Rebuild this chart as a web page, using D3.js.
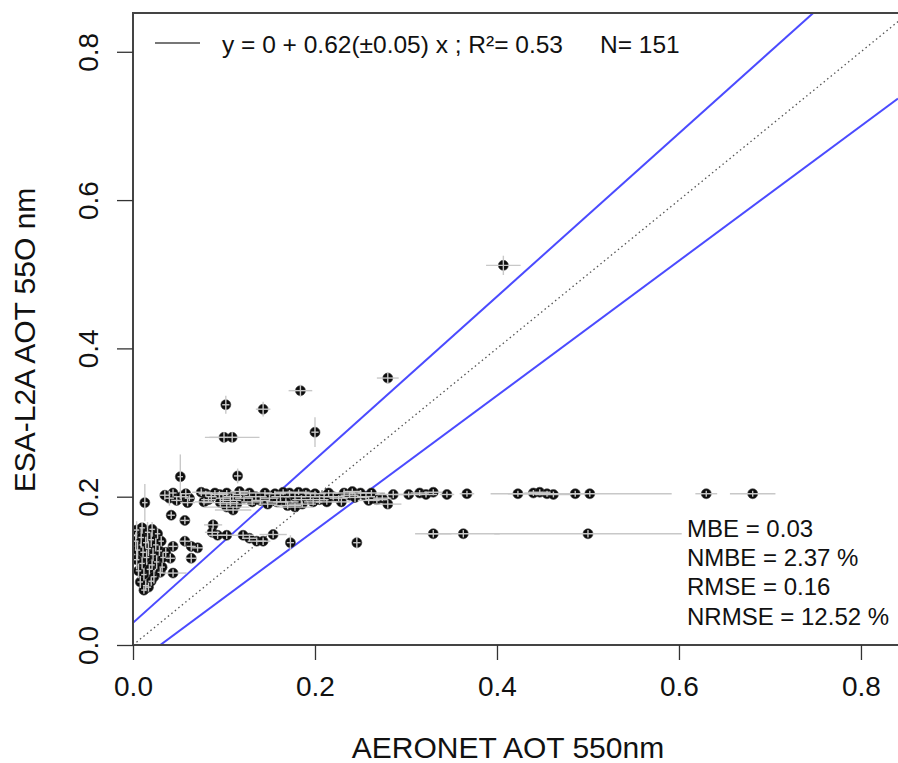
<!DOCTYPE html>
<html>
<head>
  <meta charset="utf-8">
  <script src="https://d3js.org/d3.v7.min.js"></script>
  <style>
    body { margin: 0; background: #fff; }
    text { font-family: "Liberation Sans", Arial, sans-serif; fill: #111; }
  </style>
</head>
<body>
<svg width="898" height="763"></svg>
<script>
  // AERONET (x), ESA-L2A (y) and their error bar half-widths, grouped by region of the plot
  var aeronet = [
    0.407, 0.280, 0.184, 0.102, 0.143, 0.200, 0.100, 0.109, 0.052, 0.115, 0.013,
    0.035, 0.040, 0.044, 0.048, 0.053, 0.058, 0.062, 0.075, 0.080, 0.086, 0.090, 0.095, 0.099, 0.103, 0.107, 0.110, 0.114,
    0.118, 0.122, 0.096, 0.103, 0.110, 0.128, 0.135, 0.140, 0.145, 0.150, 0.156, 0.162, 0.168, 0.172, 0.178, 0.185, 0.190,
    0.195, 0.200, 0.205, 0.210, 0.215, 0.220, 0.226, 0.232, 0.238, 0.244, 0.250, 0.256, 0.262, 0.268, 0.274, 0.280, 0.170,
    0.178, 0.186, 0.060, 0.078, 0.083, 0.117, 0.131, 0.148, 0.158, 0.165, 0.182, 0.198, 0.213, 0.229, 0.241, 0.259, 0.286,
    0.303, 0.315, 0.322, 0.330, 0.345, 0.367, 0.423, 0.440, 0.447, 0.455, 0.462, 0.486, 0.502, 0.630, 0.681,
    0.330, 0.363, 0.500,
    0.042, 0.057, 0.088, 0.087, 0.093, 0.103, 0.121, 0.128, 0.136, 0.143, 0.154, 0.044, 0.057, 0.064, 0.071, 0.041, 0.064,
    0.044, 0.173, 0.246,
    0.004, 0.010, 0.016, 0.021, 0.027, 0.003, 0.009, 0.014, 0.020, 0.025, 0.031, 0.005, 0.011, 0.017, 0.022, 0.029, 0.004,
    0.010, 0.015, 0.021, 0.026, 0.006, 0.012, 0.018, 0.023, 0.030, 0.008, 0.014, 0.020, 0.012, 0.017, 0.033, 0.036, 0.032
  ];
  var esa = [
    0.512, 0.360, 0.343, 0.324, 0.318, 0.287, 0.280, 0.280, 0.227, 0.228, 0.192,
    0.202, 0.198, 0.205, 0.195, 0.200, 0.204, 0.198, 0.206, 0.204, 0.200, 0.205, 0.203, 0.198, 0.205, 0.195, 0.200, 0.190,
    0.203, 0.198, 0.192, 0.186, 0.182, 0.205, 0.200, 0.195, 0.205, 0.198, 0.204, 0.200, 0.193, 0.205, 0.200, 0.196, 0.205,
    0.200, 0.204, 0.196, 0.200, 0.205, 0.200, 0.198, 0.205, 0.202, 0.199, 0.205, 0.200, 0.205, 0.196, 0.198, 0.190, 0.188,
    0.186, 0.190, 0.192, 0.193, 0.196, 0.207, 0.193, 0.190, 0.193, 0.206, 0.206, 0.193, 0.193, 0.193, 0.207, 0.195, 0.203,
    0.203, 0.205, 0.203, 0.206, 0.203, 0.204, 0.204, 0.205, 0.206, 0.204, 0.203, 0.204, 0.204, 0.204, 0.204,
    0.150, 0.150, 0.150,
    0.175, 0.168, 0.162, 0.152, 0.148, 0.148, 0.148, 0.144, 0.140, 0.140, 0.149, 0.133, 0.140, 0.133, 0.131, 0.117, 0.117,
    0.097, 0.138, 0.138,
    0.155, 0.158, 0.152, 0.156, 0.150, 0.140, 0.145, 0.138, 0.142, 0.135, 0.140, 0.128, 0.125, 0.130, 0.122, 0.127, 0.115,
    0.110, 0.118, 0.108, 0.112, 0.100, 0.095, 0.102, 0.092, 0.098, 0.085, 0.080, 0.086, 0.074, 0.078, 0.118, 0.125, 0.105
  ];
  var aeronetSd = [
    0.019, 0.012, 0.013, 0.004, 0.008, 0.004, 0.016, 0.030, 0.003, 0.004, 0.003,
    0.006, 0.005, 0.004, 0.006, 0.008, 0.006, 0.005, 0.010, 0.008, 0.006, 0.012, 0.010, 0.008, 0.010, 0.012, 0.010, 0.020,
    0.008, 0.010, 0.020, 0.025, 0.020, 0.010, 0.012, 0.010, 0.008, 0.010, 0.012, 0.010, 0.014, 0.010, 0.012, 0.010, 0.012,
    0.010, 0.012, 0.010, 0.014, 0.010, 0.012, 0.010, 0.012, 0.010, 0.014, 0.012, 0.010, 0.015, 0.012, 0.010, 0.015, 0.015,
    0.020, 0.015, 0.008, 0.010, 0.008, 0.010, 0.012, 0.010, 0.012, 0.010, 0.012, 0.010, 0.012, 0.010, 0.010, 0.012, 0.020,
    0.015, 0.010, 0.012, 0.010, 0.008, 0.008, 0.030, 0.010, 0.012, 0.010, 0.020, 0.012, 0.090, 0.012, 0.025,
    0.020, 0.040, 0.103,
    0.004, 0.005, 0.010, 0.008, 0.010, 0.008, 0.012, 0.008, 0.010, 0.008, 0.015, 0.005, 0.006, 0.005, 0.006, 0.005, 0.006,
    0.015, 0.004, 0.004,
    0.003, 0.003, 0.003, 0.003, 0.003, 0.003, 0.003, 0.003, 0.003, 0.003, 0.003, 0.003, 0.003, 0.003, 0.003, 0.003, 0.003,
    0.003, 0.003, 0.003, 0.003, 0.003, 0.003, 0.003, 0.003, 0.003, 0.003, 0.003, 0.003, 0.003, 0.003, 0.003, 0.003, 0.003
  ];
  var esaSd = [
    0.013, 0.008, 0.008, 0.012, 0.010, 0.020, 0.007, 0.007, 0.030, 0.010, 0.025,
    0.006, 0.010, 0.005, 0.006, 0.005, 0.006, 0.004, 0.005, 0.004, 0.006, 0.004, 0.005, 0.006, 0.004, 0.008, 0.005, 0.006,
    0.005, 0.004, 0.006, 0.005, 0.005, 0.004, 0.005, 0.006, 0.004, 0.005, 0.004, 0.006, 0.005, 0.004, 0.005, 0.006, 0.004,
    0.005, 0.004, 0.006, 0.005, 0.004, 0.005, 0.004, 0.005, 0.004, 0.006, 0.004, 0.005, 0.004, 0.005, 0.004, 0.006, 0.005,
    0.005, 0.004, 0.005, 0.005, 0.004, 0.004, 0.005, 0.005, 0.004, 0.004, 0.004, 0.005, 0.004, 0.005, 0.004, 0.005, 0.005,
    0.004, 0.004, 0.004, 0.004, 0.004, 0.004, 0.004, 0.004, 0.004, 0.004, 0.004, 0.004, 0.004, 0.004, 0.004,
    0.005, 0.005, 0.005,
    0.005, 0.005, 0.006, 0.006, 0.005, 0.005, 0.005, 0.005, 0.005, 0.005, 0.005, 0.006, 0.006, 0.006, 0.005, 0.006, 0.006,
    0.005, 0.010, 0.008,
    0.012, 0.008, 0.014, 0.010, 0.007, 0.012, 0.014, 0.008, 0.010, 0.009, 0.007, 0.012, 0.008, 0.010, 0.009, 0.007, 0.013,
    0.008, 0.010, 0.007, 0.009, 0.010, 0.008, 0.007, 0.009, 0.006, 0.008, 0.007, 0.006, 0.005, 0.006, 0.007, 0.006, 0.006
  ];

  var ticks = [0.0, 0.2, 0.4, 0.6, 0.8];
  var fit = { intercept: 0, slope: 0.62, slopeSd: 0.05, r2: 0.53 };
  var stats = ["MBE = 0.03", "NMBE = 2.37 %", "RMSE = 0.16", "NRMSE = 12.52 %"];
  // expected error envelope around the 1:1 line
  var envelope = { offset: 0.03, factor: 1.1 };

  var svg = d3.select("svg");
  var plotL = 133, plotR = 898, plotT = 13, plotB = 645;

  var x = d3.scaleLinear().domain([0, 0.8407]).range([plotL, plotR]);
  var y = d3.scaleLinear().domain([0, 0.8523]).range([plotB, plotT]);

  svg.append("clipPath").attr("id", "plotclip")
    .append("rect").attr("x", plotL).attr("y", plotT)
    .attr("width", plotR - plotL).attr("height", plotB - plotT);

  var plot = svg.append("g").attr("clip-path", "url(#plotclip)");

  var xs = [0, 0.8407];
  var line = d3.line().x(function(d) { return x(d[0]); }).y(function(d) { return y(d[1]); });

  // 1:1 line
  plot.append("path")
    .attr("d", line(xs.map(function(v) { return [v, v]; })))
    .attr("stroke", "#555").attr("stroke-width", 1.3)
    .attr("stroke-dasharray", "1.5,3").attr("fill", "none");

  // envelope lines
  plot.append("path")
    .attr("d", line(xs.map(function(v) { return [v, envelope.offset + envelope.factor * v]; })))
    .attr("stroke", "#4b4bff").attr("stroke-width", 2).attr("fill", "none");
  plot.append("path")
    .attr("d", line(xs.map(function(v) { return [v, (v - envelope.offset) / envelope.factor]; })))
    .attr("stroke", "#4b4bff").attr("stroke-width", 2).attr("fill", "none");

  var pts = aeronet.map(function(v, i) {
    return { x: v, y: esa[i], ex: aeronetSd[i], ey: esaSd[i] };
  });

  // points
  plot.selectAll("circle.pt").data(pts).enter().append("circle")
    .attr("class", "pt")
    .attr("cx", function(d) { return x(d.x); })
    .attr("cy", function(d) { return y(d.y); })
    .attr("r", 5)
    .attr("fill", "#0d0d0d")
    .attr("stroke", "#444").attr("stroke-width", 0.6);

  // error bars on top
  var bars = plot.append("g").attr("stroke", "#c8c8c8").attr("stroke-width", 1.4);
  bars.selectAll("line.h").data(pts).enter().append("line")
    .attr("x1", function(d) { return x(d.x - d.ex); })
    .attr("x2", function(d) { return x(d.x + d.ex); })
    .attr("y1", function(d) { return y(d.y); })
    .attr("y2", function(d) { return y(d.y); });
  bars.selectAll("line.v").data(pts).enter().append("line")
    .attr("x1", function(d) { return x(d.x); })
    .attr("x2", function(d) { return x(d.x); })
    .attr("y1", function(d) { return y(d.y - d.ey); })
    .attr("y2", function(d) { return y(d.y + d.ey); });

  // box (left, top, bottom)
  svg.append("path")
    .attr("d", "M" + plotR + "," + plotT + "H" + plotL + "V" + plotB + "H" + plotR)
    .attr("stroke", "#444").attr("stroke-width", 2).attr("fill", "none");

  // axes
  var xAxis = svg.append("g").attr("transform", "translate(0," + plotB + ")")
    .call(d3.axisBottom(x).tickValues(ticks).tickFormat(d3.format(".1f")).tickSize(15).tickPadding(16));
  var yAxis = svg.append("g").attr("transform", "translate(" + plotL + ",0)")
    .call(d3.axisLeft(y).tickValues(ticks).tickFormat(d3.format(".1f")).tickSize(16).tickPadding(0));
  [xAxis, yAxis].forEach(function(a) {
    a.select(".domain").remove();
    a.selectAll(".tick line").attr("stroke", "#333").attr("stroke-width", 1.3);
    a.selectAll("text").attr("font-size", 28).attr("font-family", "Liberation Sans, Arial, sans-serif").attr("fill", "#111");
  });
  yAxis.selectAll(".tick text")
    .attr("transform", "rotate(-90)")
    .attr("x", 0).attr("y", -35)
    .attr("dy", 0)
    .attr("text-anchor", "middle");

  // axis titles
  svg.append("text").attr("x", 508).attr("y", 758)
    .attr("text-anchor", "middle").attr("font-size", 30)
    .text("AERONET AOT 550nm");
  svg.append("text")
    .attr("transform", "translate(35,340) rotate(-90)")
    .attr("text-anchor", "middle").attr("font-size", 30)
    .text("ESA-L2A AOT 55O nm");

  // legend
  svg.append("line").attr("x1", 155).attr("x2", 200).attr("y1", 43).attr("y2", 43)
    .attr("stroke", "#777").attr("stroke-width", 2);
  svg.append("text").attr("x", 222).attr("y", 53).attr("font-size", 24.5)
    .text("y = " + fit.intercept + " + " + fit.slope.toFixed(2) + "(\u00b1" + fit.slopeSd.toFixed(2) + ") x ; R\u00b2= " + fit.r2.toFixed(2));
  svg.append("text").attr("x", 600).attr("y", 53).attr("font-size", 24.5)
    .text("N= " + aeronet.length);

  // statistics
  svg.selectAll("text.stat").data(stats).enter().append("text")
    .attr("class", "stat")
    .attr("x", 687)
    .attr("y", function(d, i) { return 537 + i * 29.2; })
    .attr("font-size", 24)
    .text(function(d) { return d; });
</script>
</body>
</html>
